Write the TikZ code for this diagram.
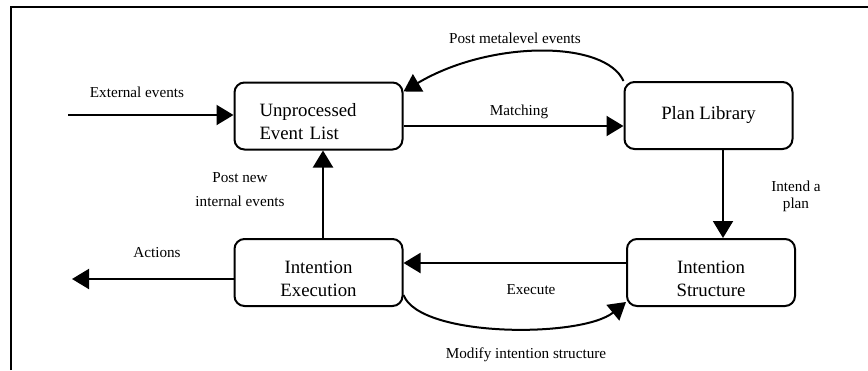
\documentclass[tikz,border=0pt]{standalone}
\usepackage{fontspec}
\setmainfont{Liberation Serif}
\usetikzlibrary{arrows.meta}

\begin{document}
\begin{tikzpicture}[%
x=0.5pt,
y=-0.5pt,
line width=1pt,
>={Triangle[length=8.5pt,width=10pt]},
box/.style={
draw,
rounded corners=5pt,
minimum width=84pt,
minimum height=33.5pt,
align=center,
font=\fontsize{9.4}{11.5}\selectfont,},
twoline/.style={
text height=24pt,
text depth=0pt,},
lbl/.style={
align=center,
font=\fontsize{7.6}{9}\selectfont,},
pil/.style={
->,
line width=1pt,}
]
\useasboundingbox (0,0) rectangle (868,370);
\draw (11,370) -- (11,7) -- (868,7);
\node[box,align=left,text width=59pt,inner xsep=12.5pt,text height=12.4pt,text depth=11.6pt] (evlist) at (318.5,116) {Unprocessed\\Event List};
\node[box] (planlib) at (708.5,115.5) {Plan Library};
\node[box,twoline] (intexec) at (318.5,272.5) {Intention\\Execution};
\node[box,twoline] (intstruct) at (711,272.5) {Intention\\Structure};
\coordinate (extin) at (68,115);
\coordinate (actout) at (72,279);
\node[lbl] (extlbl) at (137,92) {External events};
\node[lbl] (metalbl) at (515,38) {Post metalevel events};
\node[lbl] (matchlbl) at (519,112) {Matching};
\node[lbl,font=\fontsize{7.6}{8.5}\selectfont] (intendlbl) at (796,196) {Intend a\\plan};
\node[lbl,font=\fontsize{7.6}{12}\selectfont] (postlbl) at (240,190) {Post new\\internal events};
\node[lbl] (actlbl) at (157,253) {Actions};
\node[lbl] (execlbl) at (531,290) {Execute};
\node[lbl] (modlbl) at (526,355) {Modify intention structure};
\draw[pil] (extin) -- (extin -| evlist.west);
\draw[pil] ([yshift=-5pt]evlist.east) -- ([yshift=-5pt]evlist.east -| planlib.west);
\draw[pil] (planlib.north west) .. controls (605,40) and (490,40) .. ([yshift=-5pt]evlist.north east);
\draw[pil] ([xshift=7.25pt]planlib.south) -- ([xshift=7.25pt]planlib.south |- intstruct.north);
\draw[pil] ([yshift=4.75pt]intstruct.west) -- ([yshift=4.75pt]intstruct.west -| intexec.east);
\draw[pil] ([yshift=6pt]intexec.south east) .. controls (420,338) and (582,338) .. ([yshift=2.5pt]intstruct.south west);
\draw[pil] ([xshift=2.25pt]intexec.north) -- ([xshift=2.25pt]intexec.north |- evlist.south);
\draw[pil] ([yshift=-3.25pt]intexec.west) -- (actout);
\end{tikzpicture}
\end{document}
